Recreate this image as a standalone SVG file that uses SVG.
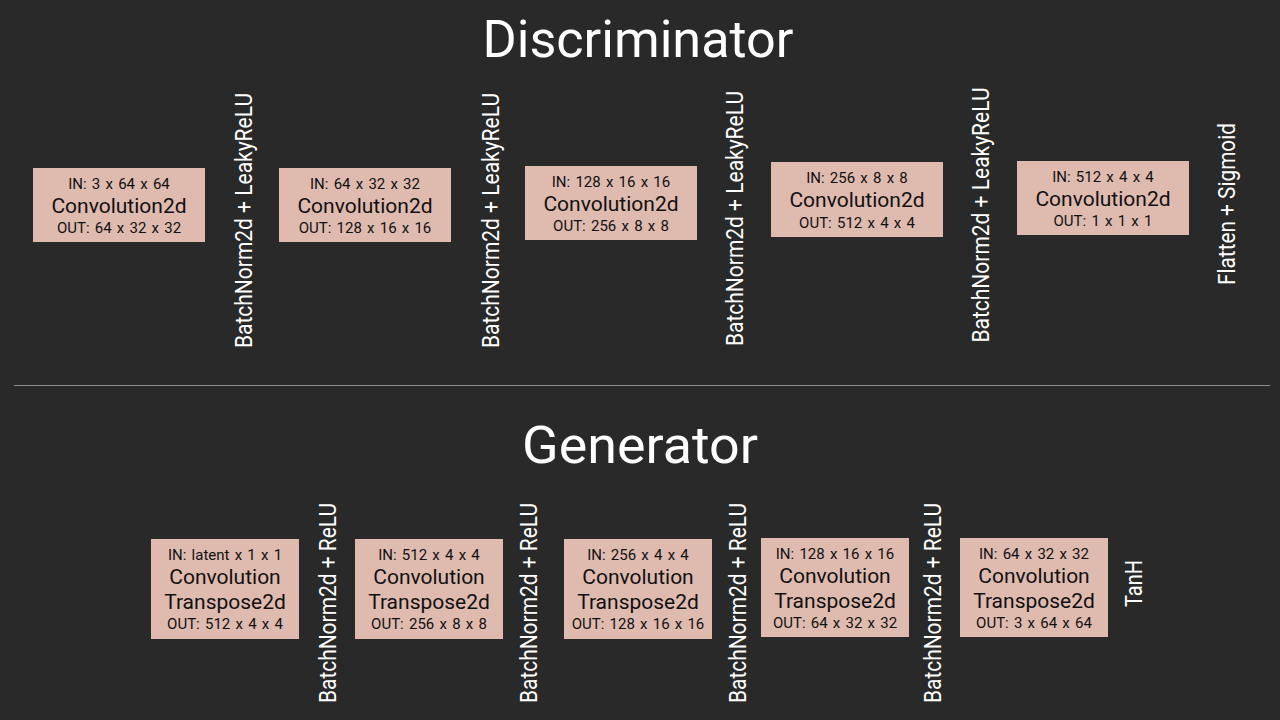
<svg xmlns="http://www.w3.org/2000/svg" width="1280" height="720" viewBox="0 0 1280 720">
<defs>
<style>
.bg{fill:#292929}
.box{fill:#dfbaaf}
.t{font-family:Roboto,"Liberation Sans",sans-serif;text-anchor:middle}
.title{font-size:52px;fill:#ffffff;font-weight:400}
.main{font-size:21px;fill:#111111}
.small{font-size:15px;fill:#111111;word-spacing:1.5px}
.vlab{font-size:23px;fill:#ffffff}
.sep{stroke:#8c8c8c;stroke-width:1}
</style>
</defs>
<rect class="bg" x="0" y="0" width="1280" height="720"/>

<g id="titles">
<text class="t title" x="638" y="57" textLength="311" lengthAdjust="spacingAndGlyphs">Discriminator</text>
<text class="t title" x="640" y="463" textLength="236" lengthAdjust="spacingAndGlyphs">Generator</text>
</g>

<g id="separator">
<line class="sep" x1="14" y1="385.5" x2="1270" y2="385.5"/>
</g>

<g id="connectors"></g>

<!-- Discriminator -->
<g id="d1">
<rect class="box" x="33" y="168" width="172" height="74"/>
<text class="t small" x="119" y="189">IN: 3 x 64 x 64</text>
<text class="t main" x="119" y="213">Convolution2d</text>
<text class="t small" x="119" y="233">OUT: 64 x 32 x 32</text>
</g>
<g id="d1-act"><text class="t vlab" transform="translate(252,220.5) rotate(-90)" textLength="255" lengthAdjust="spacingAndGlyphs">BatchNorm2d + LeakyReLU</text></g>

<g id="d2">
<rect class="box" x="279" y="168" width="172" height="74"/>
<text class="t small" x="365" y="189">IN: 64 x 32 x 32</text>
<text class="t main" x="365" y="213">Convolution2d</text>
<text class="t small" x="365" y="233">OUT: 128 x 16 x 16</text>
</g>
<g id="d2-act"><text class="t vlab" transform="translate(499,220.5) rotate(-90)" textLength="255" lengthAdjust="spacingAndGlyphs">BatchNorm2d + LeakyReLU</text></g>

<g id="d3">
<rect class="box" x="525" y="166" width="172" height="74"/>
<text class="t small" x="611" y="187">IN: 128 x 16 x 16</text>
<text class="t main" x="611" y="211">Convolution2d</text>
<text class="t small" x="611" y="231">OUT: 256 x 8 x 8</text>
</g>
<g id="d3-act"><text class="t vlab" transform="translate(743,218.5) rotate(-90)" textLength="255" lengthAdjust="spacingAndGlyphs">BatchNorm2d + LeakyReLU</text></g>

<g id="d4">
<rect class="box" x="771" y="162" width="172" height="75"/>
<text class="t small" x="857" y="183">IN: 256 x 8 x 8</text>
<text class="t main" x="857" y="207">Convolution2d</text>
<text class="t small" x="857" y="228">OUT: 512 x 4 x 4</text>
</g>
<g id="d4-act"><text class="t vlab" transform="translate(989,215) rotate(-90)" textLength="255" lengthAdjust="spacingAndGlyphs">BatchNorm2d + LeakyReLU</text></g>

<g id="d5">
<rect class="box" x="1017" y="161" width="172" height="74"/>
<text class="t small" x="1103" y="182">IN: 512 x 4 x 4</text>
<text class="t main" x="1103" y="206">Convolution2d</text>
<text class="t small" x="1103" y="226">OUT: 1 x 1 x 1</text>
</g>
<g id="d5-act"><text class="t vlab" transform="translate(1235,204) rotate(-90)" textLength="162" lengthAdjust="spacingAndGlyphs">Flatten + Sigmoid</text></g>

<!-- Generator -->
<g id="g1">
<rect class="box" x="151" y="539" width="148" height="100"/>
<text class="t small" x="225" y="560">IN: latent x 1 x 1</text>
<text class="t main" x="225" y="584">Convolution</text>
<text class="t main" x="225" y="609">Transpose2d</text>
<text class="t small" x="225" y="629">OUT: 512 x 4 x 4</text>
</g>
<g id="g1-act"><text class="t vlab" transform="translate(336,603) rotate(-90)" textLength="200" lengthAdjust="spacingAndGlyphs">BatchNorm2d + ReLU</text></g>

<g id="g2">
<rect class="box" x="355" y="539" width="148" height="100"/>
<text class="t small" x="429" y="560">IN: 512 x 4 x 4</text>
<text class="t main" x="429" y="584">Convolution</text>
<text class="t main" x="429" y="609">Transpose2d</text>
<text class="t small" x="429" y="629">OUT: 256 x 8 x 8</text>
</g>
<g id="g2-act"><text class="t vlab" transform="translate(537,603) rotate(-90)" textLength="200" lengthAdjust="spacingAndGlyphs">BatchNorm2d + ReLU</text></g>

<g id="g3">
<rect class="box" x="564" y="539" width="148" height="100"/>
<text class="t small" x="638" y="560">IN: 256 x 4 x 4</text>
<text class="t main" x="638" y="584">Convolution</text>
<text class="t main" x="638" y="609">Transpose2d</text>
<text class="t small" x="638" y="629">OUT: 128 x 16 x 16</text>
</g>
<g id="g3-act"><text class="t vlab" transform="translate(746,603) rotate(-90)" textLength="200" lengthAdjust="spacingAndGlyphs">BatchNorm2d + ReLU</text></g>

<g id="g4">
<rect class="box" x="761" y="538" width="148" height="99"/>
<text class="t small" x="835" y="559">IN: 128 x 16 x 16</text>
<text class="t main" x="835" y="583">Convolution</text>
<text class="t main" x="835" y="608">Transpose2d</text>
<text class="t small" x="835" y="628">OUT: 64 x 32 x 32</text>
</g>
<g id="g4-act"><text class="t vlab" transform="translate(941,603) rotate(-90)" textLength="200" lengthAdjust="spacingAndGlyphs">BatchNorm2d + ReLU</text></g>

<g id="g5">
<rect class="box" x="960" y="538" width="148" height="99"/>
<text class="t small" x="1034" y="559">IN: 64 x 32 x 32</text>
<text class="t main" x="1034" y="583">Convolution</text>
<text class="t main" x="1034" y="608">Transpose2d</text>
<text class="t small" x="1034" y="628">OUT: 3 x 64 x 64</text>
</g>
<g id="g5-act"><text class="t vlab" transform="translate(1142,583.5) rotate(-90)" textLength="47" lengthAdjust="spacingAndGlyphs">TanH</text></g>
</svg>
